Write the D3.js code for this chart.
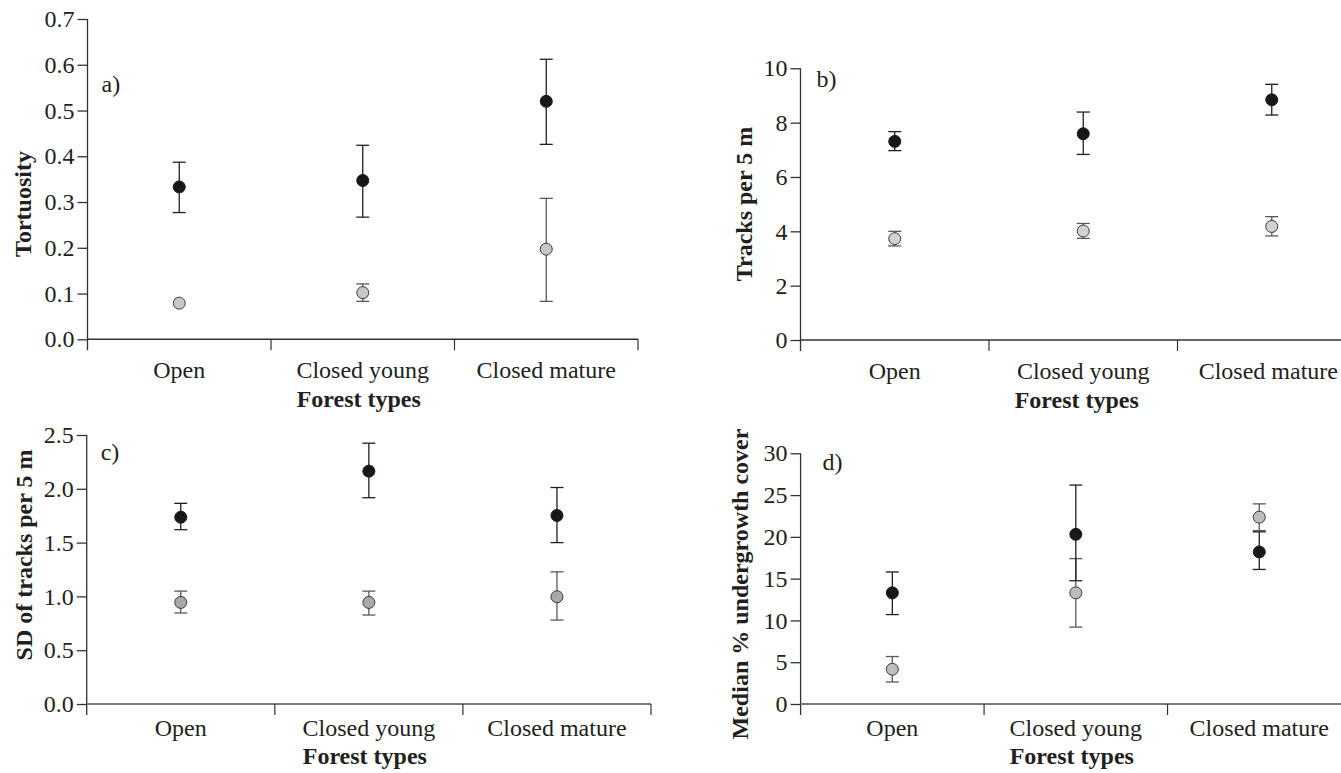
<!DOCTYPE html>
<html>
<head>
<meta charset="utf-8">
<script src="https://cdn.jsdelivr.net/npm/d3@7"></script>
<style>
  html, body { margin: 0; padding: 0; background: #fff; }
  svg { display: block; }
  text { font-family: "Liberation Serif", "Times New Roman", serif; fill: #231f20; }
</style>
</head>
<body>
<svg id="chart" width="1341" height="773"></svg>
<script>
// ---------- DATA ----------
const categories = ["Open", "Closed young", "Closed mature"];

// a) Tortuosity
const tortTicks = [0.0, 0.1, 0.2, 0.3, 0.4, 0.5, 0.6, 0.7];
const tortBlack   = [0.333, 0.347, 0.520];
const tortBlackLo = [0.277, 0.267, 0.426];
const tortBlackHi = [0.387, 0.424, 0.612];
const tortGray    = [0.079, 0.102, 0.197];
const tortGrayLo  = [null, 0.083, 0.083];
const tortGrayHi  = [null, 0.121, 0.308];

// b) Tracks per 5 m
const tracksTicks = [0, 2, 4, 6, 8, 10];
const tracksBlack   = [7.31, 7.59, 8.84];
const tracksBlackLo = [6.97, 6.83, 8.28];
const tracksBlackHi = [7.67, 8.39, 9.41];
const tracksGray    = [3.73, 4.01, 4.18];
const tracksGrayLo  = [3.46, 3.74, 3.83];
const tracksGrayHi  = [4.00, 4.29, 4.54];

// c) SD of tracks per 5 m
const sdTicks = [0.0, 0.5, 1.0, 1.5, 2.0, 2.5];
const sdBlack   = [1.736, 2.164, 1.752];
const sdBlackLo = [1.620, 1.917, 1.500];
const sdBlackHi = [1.865, 2.424, 2.012];
const sdGray    = [0.944, 0.944, 0.997];
const sdGrayLo  = [0.846, 0.827, 0.780];
const sdGrayHi  = [1.049, 1.049, 1.228];

// d) Median % undergrowth cover
const coverTicks = [0, 5, 10, 15, 20, 25, 30];
const coverBlack   = [13.3, 20.3, 18.2];
const coverBlackLo = [10.7, 14.75, 16.1];
const coverBlackHi = [15.8, 26.2, 20.6];
const coverGray    = [4.16, 13.3, 22.36];
const coverGrayLo  = [2.64, 9.2, 20.75];
const coverGrayHi  = [5.68, 17.4, 23.95];

const xTitle = "Forest types";

// ---------- LAYOUT ----------
const panels = [
  { tag: "a)", yTitle: "Tortuosity", ticks: tortTicks, fmt: d3.format(".1f"), ymax: 0.7,
    black: tortBlack, blackLo: tortBlackLo, blackHi: tortBlackHi,
    gray: tortGray, grayLo: tortGrayLo, grayHi: tortGrayHi,
    left: 87.5, right: 638, top: 19, bottom: 339.3,
    catY: 38.5, xtY: 68, tagX: 14, tagY: 73, ytX: 23, ytY: 204,
    grayFill: "#c6c7c9", xAxisColor: "#333", xAxisW: 1.4 },
  { tag: "b)", yTitle: "Tracks per 5 m", ticks: tracksTicks, fmt: d3.format("d"), ymax: 10,
    black: tracksBlack, blackLo: tracksBlackLo, blackHi: tracksBlackHi,
    gray: tracksGray, grayLo: tracksGrayLo, grayHi: tracksGrayHi,
    left: 800.5, right: 1366, top: 68.3, bottom: 340,
    catY: 38.5, xtY: 68, tagX: 16, tagY: 19, ytX: 744, ytY: 204,
    grayFill: "#d1d2d3", xAxisColor: "#333", xAxisW: 1.4 },
  { tag: "c)", yTitle: "SD of tracks per 5 m", ticks: sdTicks, fmt: d3.format(".1f"), ymax: 2.5,
    black: sdBlack, blackLo: sdBlackLo, blackHi: sdBlackHi,
    gray: sdGray, grayLo: sdGrayLo, grayHi: sdGrayHi,
    left: 86.7, right: 651, top: 435, bottom: 704,
    catY: 32, xtY: 60, tagX: 14, tagY: 25, ytX: 24, ytY: 555,
    grayFill: "#a7a9ac", xAxisColor: "#777", xAxisW: 1.8 },
  { tag: "d)", yTitle: "Median % undergrowth cover", ticks: coverTicks, fmt: d3.format("d"), ymax: 30,
    black: coverBlack, blackLo: coverBlackLo, blackHi: coverBlackHi,
    gray: coverGray, grayLo: coverGrayLo, grayHi: coverGrayHi,
    left: 800.6, right: 1351, top: 453.3, bottom: 704,
    catY: 32, xtY: 60, tagX: 22, tagY: 17, ytX: 740, ytY: 584,
    grayFill: "#bcbec0", xAxisColor: "#777", xAxisW: 1.8 }
];

const svg = d3.select("#chart");
const W = 1341;

panels.forEach(p => {
  const g = svg.append("g");
  const x = d3.scaleBand().domain(categories).range([p.left, p.right]).paddingInner(0).paddingOuter(0);
  const y = d3.scaleLinear().domain([0, p.ymax]).range([p.bottom, p.top]);
  const cx = c => x(c) + x.bandwidth() / 2;

  // y axis
  const yAxis = d3.axisLeft(y).tickValues(p.ticks).tickFormat(p.fmt).tickSize(10).tickPadding(3);
  const ya = g.append("g").attr("transform", `translate(${p.left},0)`).call(yAxis);
  ya.select(".domain").remove();
  ya.selectAll(".tick line").attr("stroke", "#333").attr("stroke-width", 1.3);
  ya.selectAll(".tick text").attr("font-size", 24).attr("font-family", "Liberation Serif").attr("fill", "#231f20");
  g.append("line").attr("x1", p.left).attr("x2", p.left).attr("y1", p.top).attr("y2", p.bottom + 11)
    .attr("stroke", "#333").attr("stroke-width", 1.3);

  // x axis
  g.append("line").attr("x1", p.left).attr("x2", Math.min(p.right, W)).attr("y1", p.bottom).attr("y2", p.bottom)
    .attr("stroke", p.xAxisColor).attr("stroke-width", p.xAxisW);
  const dividers = categories.map(c => x(c) + x.bandwidth()).filter(v => v <= W);
  g.selectAll(".div").data(dividers).join("line")
    .attr("x1", d => d).attr("x2", d => d).attr("y1", p.bottom).attr("y2", p.bottom + 11)
    .attr("stroke", "#333").attr("stroke-width", 1.2);

  // category labels
  g.selectAll(".cat").data(categories).join("text")
    .attr("font-size", 24).attr("text-anchor", "middle")
    .attr("y", p.bottom + p.catY)
    .text(d => d)
    .each(function(d) {
      const w = this.getComputedTextLength();
      let c = cx(d);
      if (c + w / 2 > W - 3) c = W - 3 - w / 2;
      d3.select(this).attr("x", c);
    });

  // x title
  g.append("text").attr("x", (p.left + Math.min(p.right, W + 20)) / 2 - 4).attr("y", p.bottom + p.xtY)
    .attr("text-anchor", "middle").attr("font-size", 24).attr("font-weight", "bold").text(xTitle);

  // y title
  g.append("text").attr("transform", `translate(${p.ytX},${p.ytY}) rotate(-90)`)
    .attr("text-anchor", "middle").attr("dominant-baseline", "central")
    .attr("font-size", 24).attr("font-weight", "bold").text(p.yTitle);

  // panel tag
  g.append("text").attr("x", p.left + p.tagX).attr("y", p.top + p.tagY).attr("font-size", 24).text(p.tag);

  // series
  const series = [
    { v: p.gray, lo: p.grayLo, hi: p.grayHi, fill: p.grayFill, stroke: "#3a3a3a", bar: "#58595b" },
    { v: p.black, lo: p.blackLo, hi: p.blackHi, fill: "#1a1718", stroke: "#1a1718", bar: "#231f20" }
  ];
  series.forEach(s => {
    const rows = categories.map((c, i) => ({ c, v: s.v[i], lo: s.lo[i], hi: s.hi[i] }));
    const eb = rows.filter(r => r.lo != null && r.hi != null);
    g.selectAll(null).data(eb).join("line")
      .attr("x1", d => cx(d.c)).attr("x2", d => cx(d.c))
      .attr("y1", d => y(d.lo)).attr("y2", d => y(d.hi))
      .attr("stroke", s.bar).attr("stroke-width", 1.3);
    ["lo", "hi"].forEach(k => {
      g.selectAll(null).data(eb).join("line")
        .attr("x1", d => cx(d.c) - 6.5).attr("x2", d => cx(d.c) + 6.5)
        .attr("y1", d => y(d[k])).attr("y2", d => y(d[k]))
        .attr("stroke", s.bar).attr("stroke-width", 1.3);
    });
  });
  series.forEach(s => {
    const rows = categories.map((c, i) => ({ c, v: s.v[i] }));
    g.selectAll(null).data(rows).join("circle")
      .attr("cx", d => cx(d.c)).attr("cy", d => y(d.v)).attr("r", 6)
      .attr("fill", s.fill).attr("stroke", s.stroke).attr("stroke-width", 1);
  });
});
</script>
</body>
</html>
